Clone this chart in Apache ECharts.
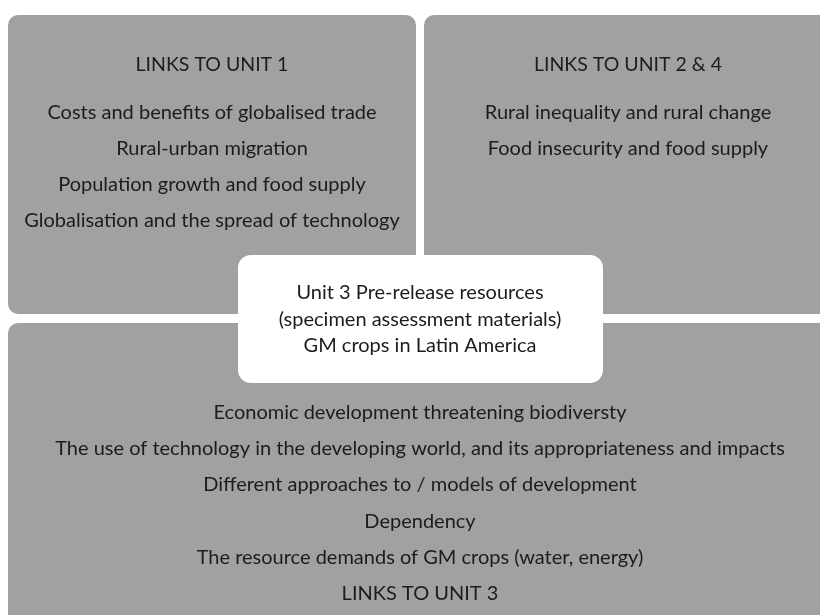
<!DOCTYPE html>
<html>
<head>
<meta charset="utf-8">
<script src="https://cdn.jsdelivr.net/npm/echarts@6/dist/echarts.min.js"></script>
<style>
  html, body { margin: 0; padding: 0; background: #fff; }
  #main { width: 820px; height: 615px; }
</style>
</head>
<body>
<div id="main"></div>
<script>
const unit1Title = 'LINKS TO UNIT 1';
const unit1Lines = [
  'Costs and benefits of globalised trade',
  'Rural-urban migration',
  'Population growth and food supply',
  'Globalisation and the spread of technology',
];
const unit24Title = 'LINKS TO UNIT 2 & 4';
const unit24Lines = [
  'Rural inequality and rural change',
  'Food insecurity and food supply',
];
const centreLines = [
  'Unit 3 Pre-release resources',
  '(specimen assessment materials)',
  'GM crops in Latin America',
];
const unit3Lines = [
  'Economic development threatening biodiversty',
  'The use of technology in the developing world, and its appropriateness and impacts',
  'Different approaches to / models of development',
  'Dependency',
  'The resource demands of GM crops (water, energy)',
  'LINKS TO UNIT 3',
];

const GREY = '#a1a1a1';
const INK = '#1c1c1c';
const FONT = 'Lato, "Open Sans", sans-serif';

function box(x, y, w, h, r, fill) {
  return { type: 'rect', shape: { x, y, width: w, height: h, r }, style: { fill } };
}

function lines(arr, cx, y0, step, size) {
  return arr.map((t, i) => ({
    type: 'text',
    x: cx,
    y: y0 + i * step,
    style: {
      text: t,
      fill: INK,
      font: size + 'px ' + FONT,
      align: 'center',
      verticalAlign: 'middle',
    },
  }));
}

const elements = [
  box(8, 15, 408, 299, 10, GREY),
  box(424, 15, 420, 299, 10, GREY),
  box(8, 323, 836, 320, 10, GREY),
  box(238, 255, 365, 128, 13, '#ffffff'),
  ...lines([unit1Title], 212, 65, 0, 19.5),
  ...lines(unit1Lines, 212, 112.5, 36, 20),
  ...lines([unit24Title], 628, 65, 0, 19.5),
  ...lines(unit24Lines, 628, 112.5, 36, 20),
  ...lines(centreLines, 420, 293, 26.5, 20),
  ...lines(unit3Lines, 420, 412.5, 36.2, 20),
];

const chart = echarts.init(document.getElementById('main'));
chart.setOption({
  backgroundColor: '#ffffff',
  animation: false,
  graphic: { elements },
});
</script>
</body>
</html>
